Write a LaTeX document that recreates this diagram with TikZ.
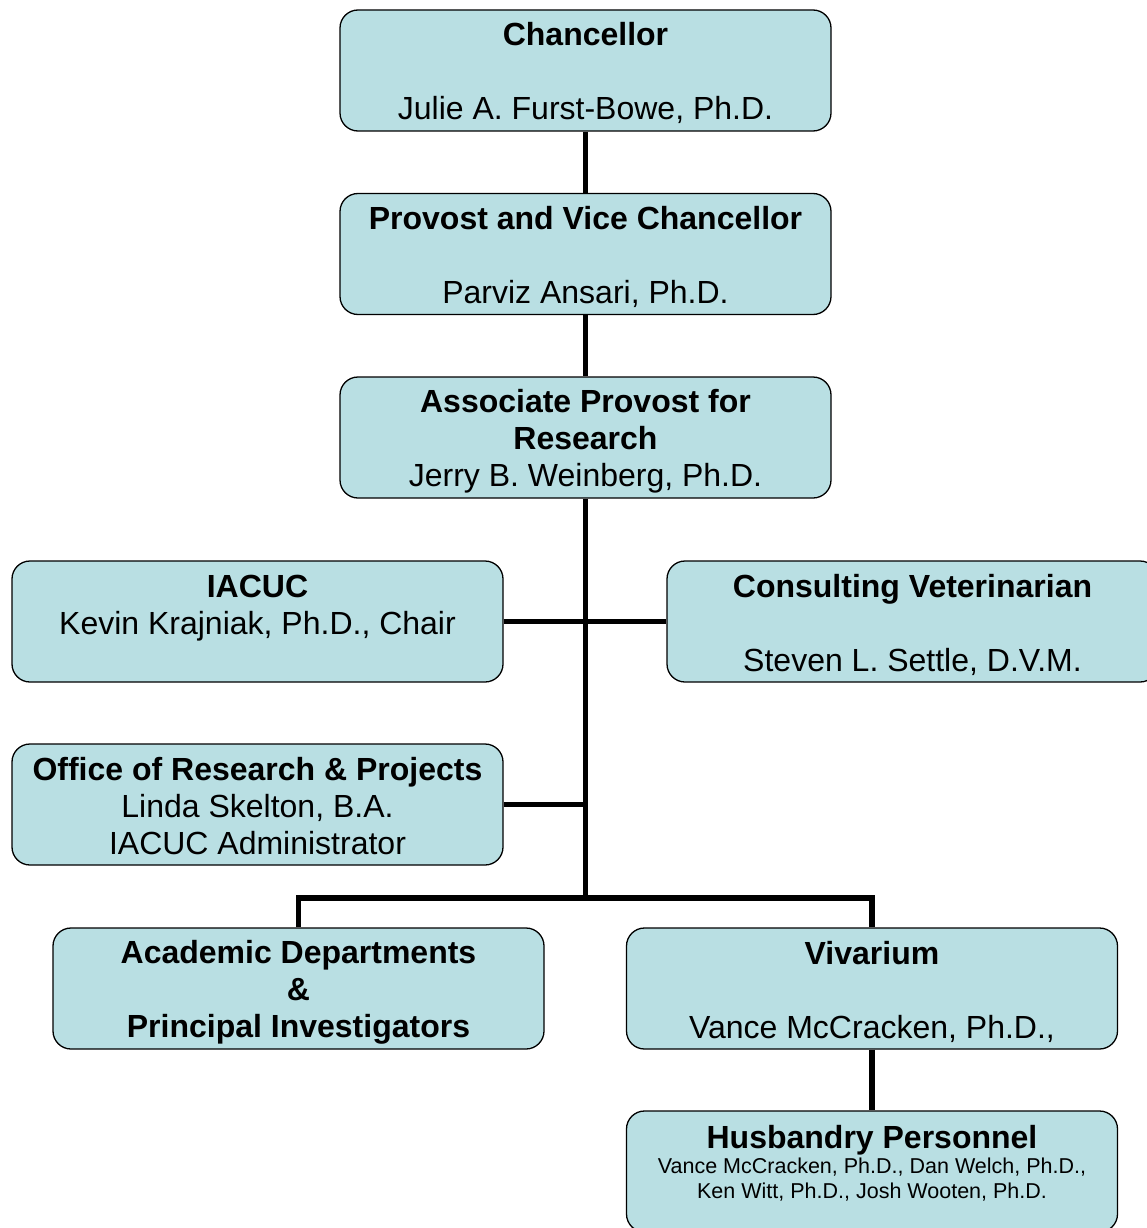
\documentclass[tikz,border=0pt]{standalone}
\usepackage{fontspec}
\setmainfont{Liberation Sans}
\definecolor{boxfill}{HTML}{B9DFE3}
\newcommand\topst{\rule{0pt}{31pt}}
\newcommand\botst{\rule[-6pt]{0pt}{6pt}}
\begin{document}
\begin{tikzpicture}[x=1pt,y=1pt,
  orgbox/.style={draw=black, line width=1.3pt, fill=boxfill, rounded corners=18pt,
    minimum width=491pt, minimum height=121pt, inner sep=0pt, align=center,
    font=\fontsize{32}{37}\selectfont},
  conn/.style={line width=5.5pt, line join=miter}]
\useasboundingbox (0,0) rectangle (1147,-1228);
\clip (0,0) rectangle (1147,-1228);
\node[orgbox] (chan) at (585.5,-70.5) {\topst\textbf{Chancellor}\\ \mbox{}\\ Julie A. Furst-Bowe, Ph.D.\botst};
\node[orgbox] (prov) at (585.5,-254) {\topst\textbf{Provost and Vice Chancellor}\\ \mbox{}\\ Parviz Ansari, Ph.D.\botst};
\node[orgbox] (assoc) at (585.5,-437.5) {\topst\textbf{Associate Provost for}\\ \textbf{Research}\\ Jerry B. Weinberg, Ph.D.\botst};
\node[orgbox] (iacuc) at (257.5,-621.5) {\topst\textbf{IACUC}\\ Kevin Krajniak, Ph.D., Chair\\ \mbox{}\botst};
\node[orgbox] (vet) at (912.5,-621.5) {\topst\textbf{Consulting Veterinarian}\\ \mbox{}\\ Steven L. Settle, D.V.M.\botst};
\node[orgbox] (office) at (257.5,-804.5) {\topst\textbf{Office of Research \& Projects}\\ Linda Skelton, B.A.\\ IACUC Administrator\botst};
\node[orgbox] (acad) at (298.5,-988.5) {\topst\textbf{Academic Departments}\\ \textbf{\&}\\ \textbf{Principal Investigators}\botst};
\node[orgbox] (viv) at (872,-988.5) {\topst\textbf{Vivarium}\\ \mbox{}\\ Vance McCracken, Ph.D.,\botst};
\node[orgbox] (hus) at (872,-1171.5) {};
\node[anchor=north, align=center, inner sep=0pt, font=\fontsize{21.5}{25}\selectfont] (hustxt) at ([yshift=-7pt]hus.north)
  {\topst{\fontsize{32}{37}\selectfont\bfseries Husbandry Personnel}\\ Vance McCracken, Ph.D., Dan Welch, Ph.D.,\\ Ken Witt, Ph.D., Josh Wooten, Ph.D.};
\coordinate (j) at (585.5,-898);
\draw[conn] (chan) -- (prov);
\draw[conn] (prov) -- (assoc);
\draw[conn] (assoc.south) -- (j);
\draw[conn] (iacuc.east) -- (vet.west);
\draw[conn] (office.east) -- (office.east -| assoc.south);
\draw[conn] (acad.north) |- (j) -| (viv.north);
\draw[conn] (viv) -- (hus);
\end{tikzpicture}
\end{document}
